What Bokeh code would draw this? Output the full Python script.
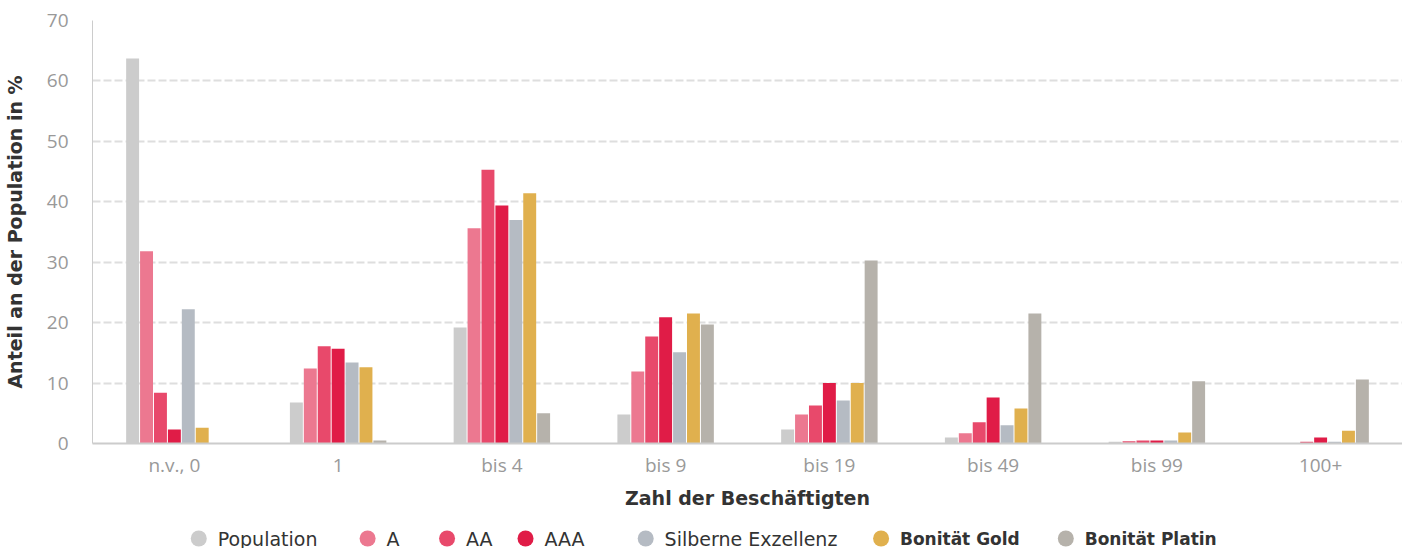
from bokeh.plotting import figure
from bokeh.models import ColumnDataSource, Range1d, SingleIntervalTicker
from bokeh.transform import dodge
from bokeh.layouts import column
from bokeh.core.properties import value
from bokeh.embed import file_html
from bokeh.resources import INLINE

# ---- data ----
categories = ["n.v., 0", "1", "bis 4", "bis 9", "bis 19", "bis 49", "bis 99", "100+"]
series_names = ["Population", "A", "AA", "AAA", "Silberne Exzellenz", "Bonität Gold", "Bonität Platin"]
population = [63.7, 6.8, 19.2, 4.8, 2.3, 1.0, 0.3, 0.0]
rating_a = [31.8, 12.4, 35.6, 11.9, 4.8, 1.7, 0.4, 0.0]
rating_aa = [8.4, 16.1, 45.3, 17.7, 6.3, 3.5, 0.5, 0.3]
rating_aaa = [2.3, 15.7, 39.4, 20.9, 10.0, 7.6, 0.5, 1.0]
silber = [22.2, 13.4, 37.0, 15.1, 7.1, 3.0, 0.5, 0.3]
gold = [2.6, 12.6, 41.4, 21.5, 10.0, 5.8, 1.8, 2.1]
platin = [0.0, 0.5, 5.0, 19.7, 30.3, 21.5, 10.3, 10.6]
y_ticks_interval = 10

# ---- styles ----
colors = ["#cccccc", "#ec7890", "#e8496b", "#e01c47", "#b5bbc3", "#e0b04e", "#b6b2ab"]
bold_flags = [False, False, False, False, False, True, True]
series = [population, rating_a, rating_aa, rating_aaa, silber, gold, platin]
keys = ["s%d" % i for i in range(len(series))]

data = {"cat": categories}
for k, s in zip(keys, series):
    data[k] = s
src = ColumnDataSource(data)

FRAME_L, FRAME_R = 91, 1410
W = 1402

p = figure(x_range=categories, y_range=Range1d(0, 70), width=W, height=520,
           output_backend="svg", toolbar_location=None,
           min_border_left=FRAME_L - 8, min_border_right=0, min_border_top=20, min_border_bottom=77)
p.outline_line_color = None

pitch = 0.085
n = len(series)
for i, (k, c) in enumerate(zip(keys, colors)):
    p.vbar(x=dodge("cat", (i - (n - 1) / 2) * pitch, range=p.x_range), top=k, width=0.079,
           source=src, fill_color=c, line_color=None)

tick = SingleIntervalTicker(interval=y_ticks_interval)
p.yaxis.ticker = tick
p.ygrid.ticker = tick
p.xgrid.grid_line_color = None
p.ygrid.grid_line_color = "#dedede"
p.ygrid.grid_line_width = 2
p.ygrid.grid_line_dash = "8 3"

for ax in (p.xaxis, p.yaxis):
    ax.major_tick_line_color = None
    ax.minor_tick_line_color = None
    ax.major_label_text_font = "Open Sans"
    ax.major_label_text_font_size = "19px"
    ax.major_label_text_color = "#999999"
    ax.axis_label_text_font = "DejaVu Sans"
    ax.axis_label_text_font_style = "bold"
    ax.axis_label_text_font_size = "19px"
    ax.axis_label_text_color = "#333333"
    ax.axis_line_color = "#cccccc"

p.xaxis.axis_line_width = 2
p.yaxis.axis_line_width = 1
p.xaxis.axis_label = "Zahl der Beschäftigten"
p.yaxis.axis_label = "Anteil an der Population in %"
p.xaxis.major_label_standoff = 2
p.xaxis.axis_label_standoff = 6
p.yaxis.major_label_standoff = 18
p.yaxis.axis_label_standoff = 18

# ---- custom legend (separate strip below the chart) ----
legend_x = [198, 368, 448, 527, 648, 885, 1071]
LH = 28
lf = figure(width=W, height=LH, x_range=Range1d(FRAME_L, FRAME_R), y_range=Range1d(0, LH),
            output_backend="svg", toolbar_location=None,
            min_border_left=FRAME_L - 8, min_border_right=0, min_border_top=0, min_border_bottom=0,
            x_axis_type=None, y_axis_type=None)
lf.outline_line_color = None
lf.xgrid.grid_line_color = None
lf.ygrid.grid_line_color = None
ly = 10
lsrc = ColumnDataSource(dict(x=legend_x, y=[ly] * n, c=colors))
lf.scatter(x="x", y="y", size=16, fill_color="c", line_color=None, source=lsrc)
norm_idx = [i for i in range(n) if not bold_flags[i]]
bold_idx = [i for i in range(n) if bold_flags[i]]
for idx, style, size in ((norm_idx, "normal", "19px"), (bold_idx, "bold", "17px")):
    s = ColumnDataSource(dict(x=[legend_x[i] + 19 for i in idx], y=[ly] * len(idx),
                              label=[series_names[i] for i in idx]))
    lf.text(x="x", y="y", text="label", source=s, text_font=value("DejaVu Sans"),
            text_font_style=style, text_font_size=size, text_color="#333333",
            text_baseline="middle", text_align="left")

layout = column(p, lf, spacing=0)
open("out.html", "w").write(file_html(layout, INLINE))
